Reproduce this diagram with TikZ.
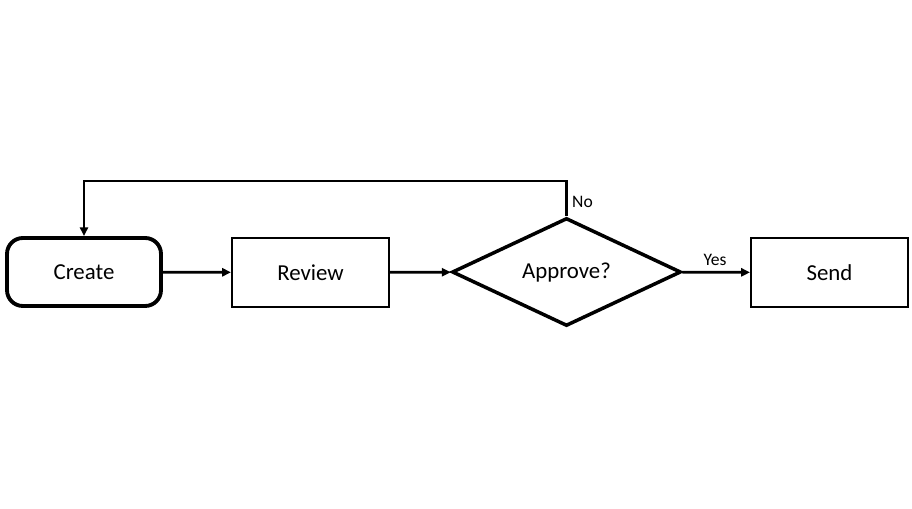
\documentclass[tikz,border=0pt]{standalone}
\usepackage{fontspec}
\setmainfont{Carlito}
\usetikzlibrary{shapes.geometric,arrows.meta}
\begin{document}
\begin{tikzpicture}[x=0.02cm, y=-0.02cm,
  paso/.style={draw=black, line width=1.2pt, minimum width=3.14cm, minimum height=1.38cm, inner sep=0pt, font=\fontsize{13}{15}\selectfont},
  inicio/.style={paso, line width=2.2pt, rounded corners=9pt, minimum width=3.08cm, minimum height=1.36cm},
  decision/.style={diamond, draw=black, line width=2pt, aspect=2.12, minimum width=4.58cm, minimum height=2.16cm, inner sep=0pt, text height=1.45ex, text depth=0pt, font=\fontsize{13}{15}\selectfont},
  flujo/.style={line width=1.6pt, -{Triangle[length=5pt,width=4.6pt]}},
  etiqueta/.style={font=\fontsize{10}{12}\selectfont}]
  \useasboundingbox (0,0) rectangle (912,509);
  \node[inicio] (create) at (84,272) {Create};
  \node[paso] (review) at (310.5,272.5) {Review};
  \node[decision] (approve) at (566.5,272) {Approve?};
  \node[paso] (send) at (829.5,272.5) {Send};
  \coordinate (vuelta) at (566.5,181);
  \draw[flujo] (create) -- (review);
  \draw[flujo] (review) -- (approve);
  \draw[flujo] (approve) -- (send);
  \draw[flujo] (approve.north) -- (vuelta) -| (create.north);
  \node[etiqueta, anchor=west] (no) at (566,202) {No};
  \node[etiqueta] (yes) at (715,260) {Yes};
\end{tikzpicture}
\end{document}
